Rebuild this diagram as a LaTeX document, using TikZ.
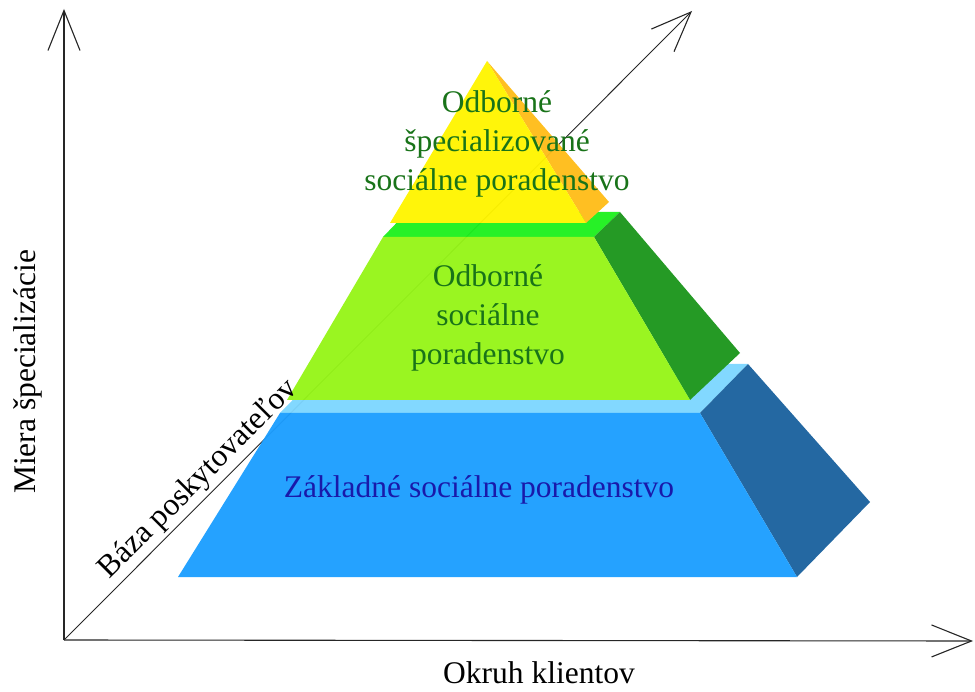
\documentclass[tikz,border=0pt]{standalone}
\usepackage{fontspec}
\setmainfont{Liberation Serif}
\usetikzlibrary{arrows.meta}

\definecolor{TopYellow}{RGB}{255,245,0}
\definecolor{TopOrange}{RGB}{255,188,25}
\definecolor{MidTop}{RGB}{30,240,30}
\definecolor{MidFront}{RGB}{150,245,24}
\definecolor{MidSide}{RGB}{28,150,28}
\definecolor{BaseTop}{RGB}{125,214,255}
\definecolor{BaseFront}{RGB}{28,158,255}
\definecolor{BaseSide}{RGB}{27,98,158}
\definecolor{GreenText}{RGB}{25,115,25}
\definecolor{BlueText}{RGB}{25,25,170}

\tikzset{
  axisline/.style={line width=1.1pt, black!85, -{Straight Barb[length=40pt, width=32pt, line width=1.1pt]}},
  tiertext/.style={font=\fontsize{31.5}{39}\selectfont, align=center},
  axistext/.style={font=\fontsize{31.5}{39}\selectfont, text=black},
}

\begin{document}
\begin{tikzpicture}[x=1pt, y=-1pt]
        \useasboundingbox (0,0) rectangle (975,692);

        % Axes
        \coordinate (O) at (64,640);
        \coordinate (Y) at (64,9);
        \coordinate (X) at (973,641);
        \coordinate (Z) at (692,11);
        \draw[axisline] (O) -- (Y);
        \draw[axisline] (O) -- (X);
        \draw[axisline, line width=0.9pt] (O) -- (Z);

        % Pyramid
        \begin{scope}[transparency group, opacity=0.96]
          % base tier
          \fill[BaseTop] (280,413) -- (328,364) -- (748,364) -- (700,413) -- cycle;
          \fill[BaseSide] (700,413) -- (748,364) -- (870,502) -- (797,577) -- cycle;
          \fill[BaseFront] (178,577) -- (280,413) -- (700,413) -- (797,577) -- cycle;
          % middle tier
          \fill[MidTop] (383,237) -- (407,212) -- (620,212) -- (594,237) -- cycle;
          \fill[MidSide] (594,237) -- (620,212) -- (740,353) -- (690,400) -- cycle;
          \fill[MidFront] (287,400) -- (383,237) -- (594,237) -- (690,400) -- cycle;
          % top tier
          \fill[TopOrange] (487,61) -- (609,202) -- (586,223) -- cycle;
          \fill[TopYellow] (487,61) -- (390,223) -- (586,223) -- cycle;
        \end{scope}

        % Labels
        \node[tiertext, text=GreenText] (top) at (497,144) {Odborné\\špecializované\\sociálne poradenstvo};
        \node[tiertext, text=GreenText] (mid) at (488,318) {Odborné\\sociálne\\poradenstvo};
        \node[tiertext, text=BlueText] (base) at (479,490) {Základné sociálne poradenstvo};
        \node[axistext, rotate=90] (ylab) at (28,372) {Miera špecializácie};
        \node[axistext] (xlab) at (539,673) {Okruh klientov};
        \path (O) -- (Z) node[axistext, pos=0.235, sloped, above] (zlab) {Báza poskytovateľov};
\end{tikzpicture}
\end{document}
